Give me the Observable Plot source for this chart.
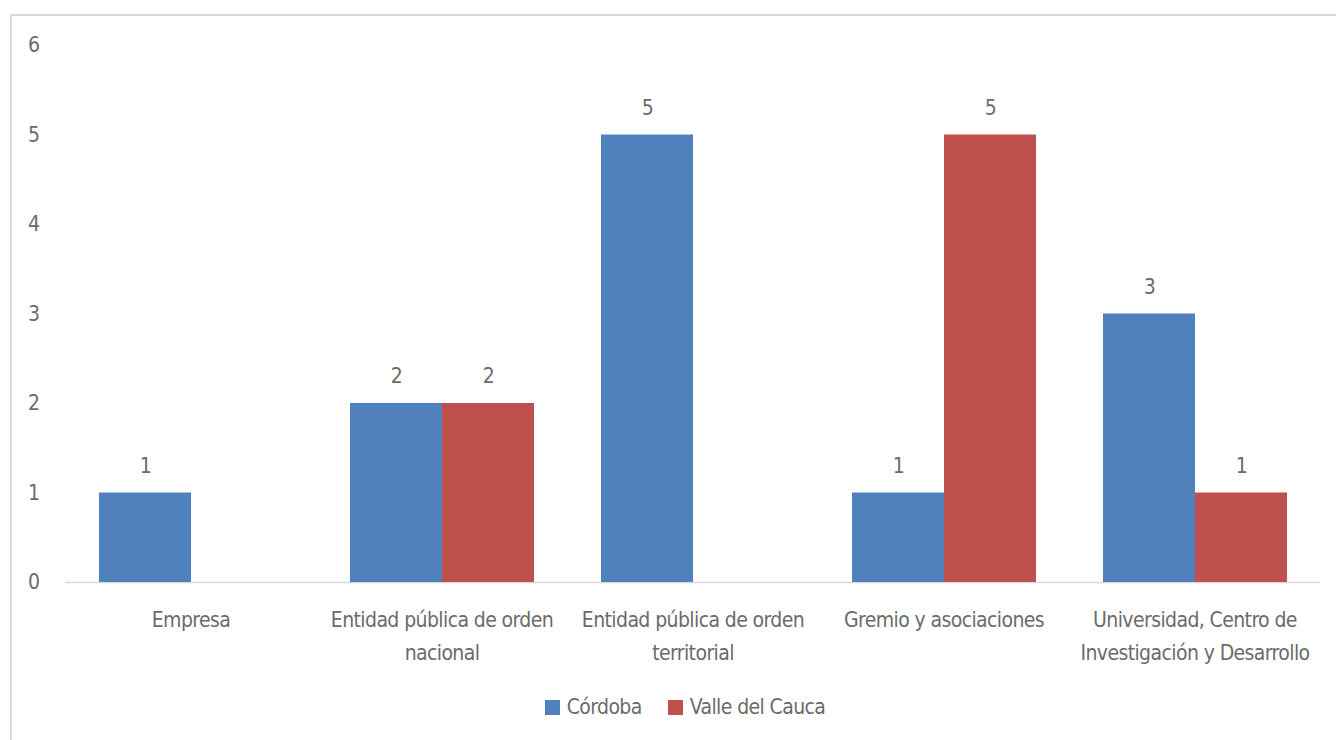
<!DOCTYPE html>
<html>
<head>
<meta charset="utf-8">
<script src="https://cdn.jsdelivr.net/npm/d3@7"></script>
<script src="https://cdn.jsdelivr.net/npm/@observablehq/plot@0.6"></script>
<style>
  html, body { margin: 0; padding: 0; background: #fff; }
  body { width: 1336px; height: 740px; position: relative; overflow: hidden;
         font-family: "DejaVu Sans Condensed", "Liberation Sans Narrow", sans-serif; }
  #frame { position: absolute; left: 10px; top: 14px; width: 1400px; height: 800px;
           border-left: 2px solid #d9d9d9; border-top: 2px solid #d9d9d9; }
  #chart { position: absolute; left: 0; top: 0; }
  #chart svg text { letter-spacing: -0.6px; }
  #legend { position: absolute; top: 695px; left: 0; width: 1370px; display: flex;
            justify-content: center; gap: 26px; font-size: 21px; letter-spacing: -0.6px; color: #6b6b6b; }
  .item { display: flex; align-items: center; gap: 7px; }
  .sw { width: 15px; height: 15px; display: inline-block; }
</style>
</head>
<body>
<div id="frame"></div>
<div id="chart"></div>
<div id="legend"></div>
<script>
const categories = [
  "Empresa",
  "Entidad pública de orden nacional",
  "Entidad pública de orden territorial",
  "Gremio y asociaciones",
  "Universidad, Centro de Investigación y Desarrollo"
];
const categoryLabels = [
  "Empresa",
  "Entidad pública de orden\nnacional",
  "Entidad pública de orden\nterritorial",
  "Gremio y asociaciones",
  "Universidad, Centro de\nInvestigación y Desarrollo"
];
const series = ["Córdoba", "Valle del Cauca"];
const cordoba = [1, 2, 5, 1, 3];
const valle = [null, 2, null, 5, 1];
const colors = ["#4F81BD", "#C0504D"];
const yTicks = [0, 1, 2, 3, 4, 5, 6];

const data = [];
categories.forEach((c, i) => {
  if (cordoba[i] != null) data.push({cat: c, serie: series[0], value: cordoba[i]});
  if (valle[i] != null) data.push({cat: c, serie: series[1], value: valle[i]});
});
const labelOf = new Map(categories.map((c, i) => [c, categoryLabels[i]]));
const textColor = "#6b6b6b";
const font = "DejaVu Sans Condensed, Liberation Sans Narrow, sans-serif";
const fs = 21;

const chart = Plot.plot({
  width: 1336,
  height: 690,
  marginLeft: 64,
  marginRight: 16,
  marginTop: 45,
  marginBottom: 108,
  style: {fontFamily: font, fontSize: fs + "px", color: textColor, background: "transparent"},
  fx: {domain: categories, padding: 0, axis: null},
  x: {domain: series, paddingInner: 0, paddingOuter: 0.364, axis: null},
  y: {domain: [0, 6], axis: null},
  color: {domain: series, range: colors},
  marks: [
    Plot.axisY({ticks: yTicks, tickFormat: d => String(d), tickSize: 0, tickPadding: 26, fontSize: fs, fill: textColor, anchor: "left", label: null}),
    Plot.ruleY([0], {stroke: "#d9d9d9", strokeWidth: 1.5}),
    Plot.barY(data, {fx: "cat", x: "serie", y: "value", fill: "serie"}),
    Plot.text(data, {fx: "cat", x: "serie", y: "value", text: d => String(d.value),
      dy: -27, lineAnchor: "middle", fontSize: fs, fill: textColor}),
    Plot.text(categories, {fx: d => d, text: d => labelOf.get(d), frameAnchor: "bottom",
      lineAnchor: "top", dy: 21, lineHeight: 1.57, fontSize: fs, fill: textColor})
  ]
});
document.getElementById("chart").appendChild(chart);

const legend = document.getElementById("legend");
series.forEach((s, i) => {
  const it = document.createElement("div");
  it.className = "item";
  const sw = document.createElement("span");
  sw.className = "sw";
  sw.style.background = colors[i];
  const t = document.createElement("span");
  t.textContent = s;
  it.appendChild(sw); it.appendChild(t);
  legend.appendChild(it);
});
</script>
</body>
</html>
